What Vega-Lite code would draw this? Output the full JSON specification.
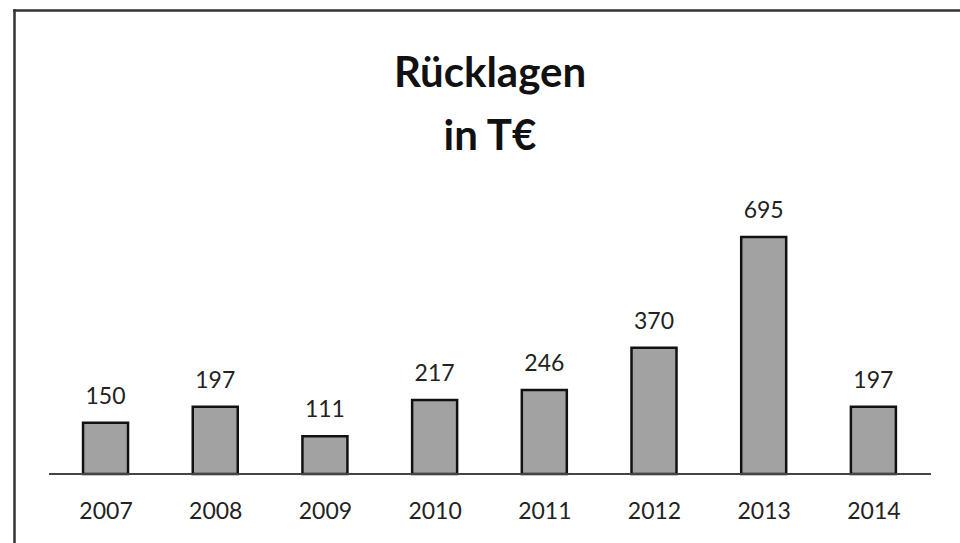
{
  "$schema": "https://vega.github.io/schema/vega-lite/v6.json",
  "usermeta": {"embedOptions": {"actions": false}},
  "autosize": {"type": "none"},
  "width": 946,
  "height": 533,
  "padding": {"left": 14, "top": 10, "right": 0, "bottom": 0},
  "background": "#ffffff",
  "config": {
    "view": {"stroke": null},
    "font": "Lato"
  },
  "title": {
    "text": ["Rücklagen", "in T€"],
    "font": "Lato",
    "fontSize": 42,
    "fontWeight": "bold",
    "lineHeight": 63,
    "color": "#111111",
    "anchor": "middle",
    "frame": "group",
    "baseline": "alphabetic",
    "offset": -182,
    "dx": 3
  },
  "data": {
    "values": [
      {"year": 2007, "value": 150},
      {"year": 2008, "value": 197},
      {"year": 2009, "value": 111},
      {"year": 2010, "value": 217},
      {"year": 2011, "value": 246},
      {"year": 2012, "value": 370},
      {"year": 2013, "value": 695},
      {"year": 2014, "value": 197}
    ]
  },
  "resolve": {"axis": {"x": "independent", "y": "independent"}},
  "layer": [
    {
      "mark": {"type": "bar", "size": 45, "fill": "#a2a2a2", "stroke": "#111111", "strokeWidth": 2.5},
      "encoding": {
        "x": {
          "field": "year",
          "type": "quantitative",
          "scale": {"domain": [2006.211, 2014.744], "nice": false, "zero": false},
          "axis": {
            "orient": "bottom",
            "values": [2007, 2008, 2009, 2010, 2011, 2012, 2013, 2014],
            "format": "d",
            "offset": -69,
            "domain": false,
            "ticks": false,
            "grid": false,
            "title": null,
            "labelFont": "Lato",
            "labelFontSize": 23,
            "labelColor": "#222222",
            "labelPadding": 26
          }
        },
        "y": {
          "field": "value",
          "type": "quantitative",
          "scale": {"domain": [-202.3, 1360.7], "nice": false, "zero": false},
          "axis": null
        },
        "y2": {"datum": 0}
      }
    },
    {
      "mark": {"type": "rule", "color": "#444444", "strokeWidth": 1.5},
      "encoding": {
        "x": {
          "datum": 2006.49,
          "type": "quantitative",
          "axis": {"orient": "top", "labels": false, "ticks": false, "grid": false, "title": null, "domain": true, "domainColor": "#333333", "domainWidth": 2.5, "domainCap": "square", "offset": 0}
        },
        "x2": {"datum": 2014.52},
        "y": {
          "datum": 0,
          "type": "quantitative",
          "axis": {"orient": "left", "labels": false, "ticks": false, "grid": false, "title": null, "domain": true, "domainColor": "#333333", "domainWidth": 2.5, "domainCap": "square", "offset": 0}
        }
      }
    },
    {
      "mark": {"type": "text", "dy": -19, "baseline": "alphabetic", "font": "Lato", "fontSize": 23, "color": "#222222"},
      "encoding": {
        "x": {"field": "year", "type": "quantitative", "axis": null},
        "y": {"field": "value", "type": "quantitative", "axis": null},
        "text": {"field": "value", "type": "quantitative"}
      }
    }
  ]
}
